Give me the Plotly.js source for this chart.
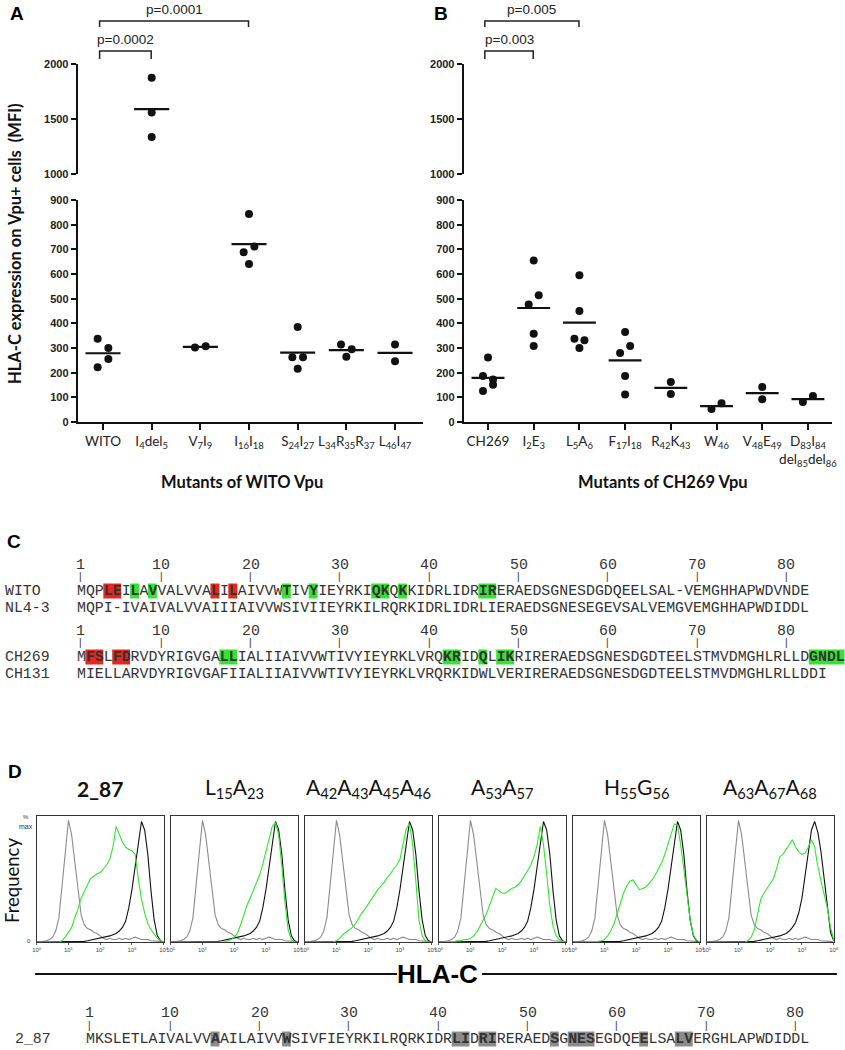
<!DOCTYPE html>
<html>
<head>
<meta charset="utf-8">
<script src="https://cdn.plot.ly/plotly-3.0.1.min.js"></script>
<style>
  html, body { margin: 0; padding: 0; background: #fff; }
  #chart { width: 845px; height: 1050px; }
</style>
</head>
<body>
<div id="chart"></div>
<script>
// ---- A: HLA-C MFI on Vpu+ cells, WITO Vpu mutants
var witoMutants = ['WITO', 'I<sub>4</sub>del<sub>5</sub>', 'V<sub>7</sub>I<sub>9</sub>', 'I<sub>16</sub>I<sub>18</sub>',
  'S<sub>24</sub>I<sub>27</sub>', 'L<sub>34</sub>R<sub>35</sub>R<sub>37</sub>', 'L<sub>46</sub>I<sub>47</sub>'];
var witoMFI = [
  [338, 300, 255, 222],
  [1876, 1558, 1336],
  [302, 307],
  [843, 711, 688, 641],
  [385, 262, 262, 216],
  [314, 295, 265],
  [314, 246]
];
var witoPairs = [[0, 1], [0, 3]];
var witoPvals = ['p=0.0002', 'p=0.0001'];

// ---- B: CH269 Vpu mutants
var ch269Mutants = ['CH269', 'I<sub>2</sub>E<sub>3</sub>', 'L<sub>5</sub>A<sub>6</sub>', 'F<sub>17</sub>I<sub>18</sub>',
  'R<sub>42</sub>K<sub>43</sub>', 'W<sub>46</sub>', 'V<sub>48</sub>E<sub>49</sub>',
  'D<sub>83</sub>I<sub>84</sub><br>del<sub>85</sub>del<sub>86</sub>'];
var ch269MFI = [
  [261, 186, 172, 151, 126],
  [655, 514, 476, 358, 308],
  [595, 450, 338, 331, 300],
  [365, 308, 280, 186, 111],
  [162, 114],
  [53, 76],
  [142, 92],
  [81, 105]
];
var ch269Pairs = [[0, 1], [0, 2]];
var ch269Pvals = ['p=0.003', 'p=0.005'];

// ---- C: Vpu alignments
var witoSeq  = 'MQPLEILAVVALVVALILAIVVWTIVYIEYRKIQKQKKIDRLIDRIRERAEDSGNESDGDQEELSAL-VEMGHHAPWDVNDE';
var nl43Seq  = 'MQPI-IVAIVALVVAIIIAIVVWSIVIIEYRKILRQRKIDRLIDRLIERAEDSGNESEGEVSALVEMGVEMGHHAPWDIDDL';
var ch269Seq = 'MFSLFDRVDYRIGVGALLIALIIAIVVWTIVYIEYRKLVRQKRIDQLIKRIRERAEDSGNESDGDTEELSTMVDMGHLRLLDGNDL';
var ch131Seq = 'MIELLARVDYRIGVGAFIIALIIAIVVWTIVYIEYRKLVRQRKIDWLVERIRERAEDSGNESDGDTEELSTMVDMGHLRLLDDI';
var witoRed = [4, 5, 16, 18];
var witoGreen = [7, 9, 24, 27, 34, 35, 37, 46, 47];
var ch269Red = [2, 3, 5, 6];
var ch269Green = [17, 18, 42, 43, 46, 48, 49, 83, 84, 85, 86];
var seqNumbers = [1, 10, 20, 30, 40, 50, 60, 70, 80];

// ---- D: flow histograms (% of max vs log10 HLA-C)
var dTitles = ['<b>2_87</b>', 'L<sub>15</sub>A<sub>23</sub>', 'A<sub>42</sub>A<sub>43</sub>A<sub>45</sub>A<sub>46</sub>',
  'A<sub>53</sub>A<sub>57</sub>', 'H<sub>55</sub>G<sub>56</sub>', 'A<sub>63</sub>A<sub>67</sub>A<sub>68</sub>'];
var logChannel = [0, 0.1, 0.2, 0.3, 0.4, 0.5, 0.6, 0.7, 0.8, 0.9, 1, 1.1, 1.2, 1.3, 1.4, 1.5, 1.6, 1.7, 1.8, 1.9, 2,
  2.1, 2.2, 2.3, 2.4, 2.5, 2.6, 2.7, 2.8, 2.9, 3, 3.1, 3.2, 3.3, 3.4, 3.5, 3.6, 3.7, 3.8, 3.9, 4];
var isotype = [0, 0, 0.5, 1, 2, 4, 9, 20, 45, 75, 100, 88, 65, 40, 22, 14, 11, 10, 8, 7, 5,
  3, 2, 3, 2, 2, 3, 2, 3, 2, 3, 4, 3, 2, 2, 2, 1, 1, 1, 0.5, 0];
var parental = [0, 0, 0, 0, 0, 0, 0, 0, 0, 0, 0, 0, 0, 0, 0, 0.5, 1, 1.5, 2, 2.5, 3,
  4, 4.5, 5, 6, 7, 9, 12, 17, 28, 43, 62, 82, 99, 92, 72, 42, 18, 5, 1, 0];
var parental6 = [0, 0, 0, 0, 0, 0, 0, 0, 0, 0, 0, 0, 0, 0, 0, 0.5, 1, 1.5, 2, 2.5, 3,
  3.5, 4, 5, 6, 7, 9, 12, 16, 24, 36, 54, 74, 92, 99, 90, 74, 52, 26, 8, 1];
var mut287 = [0, 0, 0, 0, 0, 0, 0, 0, 1, 4, 8, 12, 20, 27, 36, 42, 47, 52, 54, 56, 57,
  60, 63, 68, 78, 95, 88, 82, 78, 76, 75, 72, 52, 35, 24, 15, 10, 6, 3, 1, 0];
var mutL15 = [0, 0, 0, 0, 0, 0, 0, 0, 0, 0, 0, 0, 0, 0, 0, 0, 0, 0, 1, 2, 4,
  7, 14, 22, 30, 36, 42, 48, 55, 64, 74, 86, 95, 98, 88, 62, 32, 10, 2, 0, 0];
var mutA42 = [0, 0, 0, 0, 0, 0, 0, 0, 0, 0, 1, 3, 6, 8, 10, 12, 15, 20, 24, 27, 31,
  35, 40, 43, 46, 49, 53, 56, 60, 63, 68, 80, 93, 97, 80, 50, 18, 5, 1, 0, 0];
var mutA53 = [0, 0, 0, 0, 0, 0.5, 1, 1, 2, 2, 3, 5, 8, 13, 18, 23, 30, 38, 44, 42, 40,
  40, 42, 44, 45, 47, 50, 54, 58, 63, 70, 80, 95, 80, 56, 30, 13, 5, 2, 0.5, 0];
var mutH55 = [0, 0, 0, 0, 0, 0, 0, 0, 0.5, 1, 2, 5, 9, 15, 24, 32, 40, 46, 50, 51, 47,
  43, 44, 45, 48, 51, 55, 60, 65, 72, 80, 89, 97, 96, 80, 60, 38, 18, 6, 1.5, 0];
var mutA63 = [0, 0, 0, 0, 0, 0, 0, 0, 0, 0, 0, 0, 0, 1, 4, 10, 22, 35, 40, 44, 48,
  52, 60, 70, 72, 76, 80, 84, 78, 74, 72, 73, 78, 84, 78, 62, 50, 40, 28, 12, 2];
var dGreens = [mut287, mutL15, mutA42, mutA53, mutH55, mutA63];
var dBlacks = [parental, parental, parental, parental, parental, parental6];

// ---- bottom: 2_87 sequence with alanine-scan positions
var seq287 = 'MKSLETLAIVALVVAAILAIVVWSIVFIEYRKILRQRKIDRLIDRIRERAEDSGNESEGDQEELSALVERGHLAPWDIDDL';
var gray287 = [15, 23, 42, 43, 45, 46, 53, 55, 56, 57, 63, 67, 68];

// -------------------------------------------------------------
var W = 845, H = 1050;
function px(x) { return x / W; }
function py(y) { return 1 - y / H; }

var traces = [];
var annotations = [];
var shapes = [];

function note(text, x, y, font, extra) {
  var a = {xref: 'paper', yref: 'paper', x: px(x), y: py(y), text: text, showarrow: false,
    xanchor: 'center', yanchor: 'middle', borderpad: 0, borderwidth: 0, font: font};
  for (var k in extra) a[k] = extra[k];
  annotations.push(a);
}

// dot plot panels ------------------------------------------------
var lowTop = 200, lowBot = 422, upTop = 64, upBot = 174;
var lowScale = (lowBot - lowTop) / 900, upScale = (upBot - upTop) / 1000;
var patterns = {1: [0], 2: [1, -1], 3: [-1, 1, 0], 4: [-1, 1, 1, -1], 5: [0, -1, 1, 1, -1]};

function spread(vals) {
  var idx = vals.map(function (v, i) { return i; }).sort(function (a, b) { return vals[b] - vals[a]; });
  var offs = vals.map(function () { return 0; });
  var clusters = [], cur = [];
  idx.forEach(function (i, k) {
    var scale = vals[i] >= 1000 ? upScale : lowScale;
    if (k > 0 && (vals[idx[k - 1]] - vals[i]) * scale < 11.5) cur.push(i);
    else { if (cur.length) clusters.push(cur); cur = [i]; }
  });
  clusters.push(cur);
  clusters.forEach(function (c) {
    var p = patterns[c.length] || c.map(function (_, j) { return j % 2 ? 1 : -1; });
    c.forEach(function (i, j) { offs[i] = p[j] * 0.11; });
  });
  return offs;
}

function dotPanel(groups, xa, yLow, yUp) {
  var lo = {x: [], y: []}, up = {x: [], y: []};
  var mLo = {x: [], y: []}, mUp = {x: [], y: []};
  groups.forEach(function (vals, g) {
    var offs = spread(vals);
    vals.forEach(function (v, i) {
      var t = v >= 1000 ? up : lo;
      t.x.push(g + offs[i]); t.y.push(v);
    });
    var mean = vals.reduce(function (s, v) { return s + v; }, 0) / vals.length;
    var m = mean >= 1000 ? mUp : mLo;
    m.x.push(g - 0.36, g + 0.36, null); m.y.push(mean, mean, null);
  });
  [[mLo, yLow], [mUp, yUp]].forEach(function (p) {
    traces.push({x: p[0].x, y: p[0].y, xaxis: xa, yaxis: p[1], mode: 'lines',
      line: {color: '#111', width: 2.2}, hoverinfo: 'skip'});
  });
  [[lo, yLow], [up, yUp]].forEach(function (p) {
    traces.push({x: p[0].x, y: p[0].y, xaxis: xa, yaxis: p[1], mode: 'markers',
      marker: {color: '#111', size: 8}, hoverinfo: 'skip'});
  });
}
dotPanel(witoMFI, 'x', 'y', 'y2');
dotPanel(ch269MFI, 'x2', 'y3', 'y4');

function catAxis(l, r, range, anchor, labels) {
  return {domain: [px(l), px(r)], range: range, anchor: anchor,
    tickmode: 'array', tickvals: labels.map(function (_, i) { return i; }), ticktext: labels,
    tickangle: 0, ticks: 'outside', ticklen: 6, tickwidth: 2, tickcolor: '#111',
    showline: true, linewidth: 2, linecolor: '#111', showgrid: false, zeroline: false,
    tickfont: {family: 'Lato', size: 13.5, color: '#222'}};
}
function valAxis(top, bot, range, dtick, anchor) {
  return {domain: [py(bot), py(top)], range: range, anchor: anchor, dtick: dtick, tick0: 0,
    ticks: 'outside', ticklen: 5, tickwidth: 2, tickcolor: '#111',
    showline: true, linewidth: 2, linecolor: '#111', showgrid: false, zeroline: false,
    tickfont: {family: 'Liberation Sans', size: 11, color: '#222', weight: 'bold'}};
}

var layout = {
  width: W, height: H,
  margin: {l: 0, r: 0, t: 0, b: 0},
  paper_bgcolor: '#fff', plot_bgcolor: 'rgba(0,0,0,0)',
  showlegend: false, hovermode: false,
  xaxis: catAxis(77.7, 423, [-0.52, 6.575], 'y', witoMutants),
  yaxis: valAxis(lowTop, lowBot, [0, 900], 100, 'x'),
  yaxis2: valAxis(upTop, upBot, [1000, 2000], 500, 'x'),
  xaxis2: catAxis(463.7, 832, [-0.532, 7.527], 'y3', ch269Mutants),
  yaxis3: valAxis(lowTop, lowBot, [0, 900], 100, 'x2'),
  yaxis4: valAxis(upTop, upBot, [1000, 2000], 500, 'x2')
};

// significance brackets
function brackets(pairs, labels, xref) {
  var bars = [51, 21], legs = [59, 27];
  pairs.forEach(function (p, i) {
    var a = p[0] - 0.07, b = p[1] - 0.01;
    shapes.push({type: 'path', xref: xref, yref: 'paper',
      path: 'M ' + a + ',' + py(legs[i]) + ' L ' + a + ',' + py(bars[i]) + ' L ' + b + ',' + py(bars[i]) + ' L ' + b + ',' + py(legs[i]),
      line: {color: '#222', width: 1.5}});
    annotations.push({xref: xref, yref: 'paper', x: (a + b) / 2, y: py(bars[i] - 11), text: labels[i],
      showarrow: false, xanchor: 'center', yanchor: 'middle', borderpad: 0, borderwidth: 0,
      font: {family: 'Liberation Sans', size: 13.5, color: '#222'}});
  });
}
brackets(witoPairs, witoPvals, 'x');
brackets(ch269Pairs, ch269Pvals, 'x2');

var letterFont = {family: 'Liberation Sans', size: 19, color: '#000', weight: 'bold'};
note('A', 16.5, 13, letterFont);
note('B', 441, 13, letterFont);
note('C', 14, 541, letterFont);
note('D', 15, 771, letterFont);

var titleFont = {family: 'Lato', size: 16.5, color: '#111'};
note('<b>HLA-C expression on Vpu+ cells  (MFI)</b>', 15, 244, titleFont, {textangle: -90});
note('<b>Mutants of WITO Vpu</b>', 242, 482, titleFont);
note('<b>Mutants of CH269 Vpu</b>', 663, 482, titleFont);

// sequence rows ---------------------------------------------------
var cw = 8.93;
var monoFont = {family: 'Liberation Mono', size: 14.88, color: '#333'};

function runs(marks) {
  var s = marks.slice().sort(function (a, b) { return a - b; }), out = [];
  s.forEach(function (m) {
    var last = out[out.length - 1];
    if (last && m === last[1] + 1) last[1] = m; else out.push([m, m]);
  });
  return out;
}
function boldMarkup(seq, marks) {
  var html = '', inB = false;
  for (var i = 0; i < seq.length; i++) {
    var on = marks.indexOf(i + 1) >= 0;
    if (on && !inB) { html += '<b>'; inB = true; }
    if (!on && inB) { html += '</b>'; inB = false; }
    html += seq[i];
  }
  return html + (inB ? '</b>' : '');
}
function seqRow(name, nameX, seq, x0, y, marks) {
  marks.forEach(function (mk) {
    runs(mk.pos).forEach(function (r) {
      shapes.push({type: 'rect', xref: 'paper', yref: 'paper', layer: 'below',
        x0: px(x0 + (r[0] - 1) * cw), x1: px(x0 + r[1] * cw), y0: py(y + 7.5), y1: py(y - 7.5),
        fillcolor: mk.color, line: {width: 0}});
    });
  });
  var all = [];
  marks.forEach(function (mk) { all = all.concat(mk.pos); });
  note(name, nameX, y, monoFont, {xanchor: 'left'});
  note(boldMarkup(seq, all), x0, y, monoFont, {xanchor: 'left'});
}
function numberRow(x0, yNum, yTick) {
  seqNumbers.forEach(function (n) {
    var cx = x0 + (n - 0.5) * cw;
    note(String(n), cx, yNum, monoFont);
    note('|', cx, yTick, {family: 'Liberation Mono', size: 11, color: '#444'});
  });
}
var red = '#e8261e', green = '#35e335', gray = '#8c8c8c';
var cX = 76.5;
numberRow(cX, 565, 577);
seqRow('WITO', 5, witoSeq, cX, 591, [{pos: witoRed, color: red}, {pos: witoGreen, color: green}]);
seqRow('NL4-3', 5, nl43Seq, cX, 608, []);
numberRow(cX, 631, 643);
seqRow('CH269', 5, ch269Seq, cX, 657, [{pos: ch269Red, color: red}, {pos: ch269Green, color: green}]);
seqRow('CH131', 5, ch131Seq, cX, 674, []);

var bX = 85.5;
numberRow(bX, 1013, 1026);
seqRow('2_87', 15, seq287, bX, 1039, [{pos: gray287, color: gray}]);

// flow histograms ------------------------------------------------------
var boxTop = 816, boxBot = 942, boxW = 127;
var tickText = ['10<sup>0</sup>', '10<sup>1</sup>', '10<sup>2</sup>', '10<sup>3</sup>', '10<sup>4</sup>'];
dTitles.forEach(function (t, k) {
  var left = 36.7 + k * 134;
  var xa = 'x' + (k + 3), ya = 'y' + (k + 5);
  layout['xaxis' + (k + 3)] = {domain: [px(left), px(left + boxW)], range: [0, 4], anchor: ya,
    tickmode: 'array', tickvals: [0, 1, 2, 3, 4], ticktext: tickText, tickangle: 0,
    ticks: 'outside', ticklen: 2, tickwidth: 1, tickcolor: '#555',
    showline: true, mirror: true, linewidth: 1, linecolor: '#333', showgrid: false, zeroline: false,
    tickfont: {family: 'Liberation Sans', size: 6, color: '#444'}};
  layout['yaxis' + (k + 5)] = {domain: [py(boxBot), py(boxTop)], range: [0, 103.5], anchor: xa,
    showline: true, mirror: true, linewidth: 1, linecolor: '#333', showgrid: false, zeroline: false,
    showticklabels: false, ticks: ''};
  traces.push({x: logChannel, y: isotype, xaxis: xa, yaxis: ya, mode: 'lines',
    line: {color: '#8a8a8a', width: 1.1}, hoverinfo: 'skip'});
  traces.push({x: logChannel, y: dBlacks[k], xaxis: xa, yaxis: ya, mode: 'lines',
    line: {color: '#111', width: 1.1}, hoverinfo: 'skip'});
  traces.push({x: logChannel, y: dGreens[k], xaxis: xa, yaxis: ya, mode: 'lines',
    line: {color: '#2ee82e', width: 1.1}, hoverinfo: 'skip'});
  note(t, left + boxW / 2, 788, {family: 'Lato', size: 21, color: '#111'});
});
var tiny = {family: 'Liberation Sans', size: 6, color: '#333'};
note('%', 26, 817, tiny);
note('max', 26, 826.5, {family: 'Liberation Sans', size: 7, color: '#333'});
note('0', 29, 941, tiny);
note('Frequency', 12, 881, {family: 'Lato', size: 18.5, color: '#111'}, {textangle: -90});

// HLA-C axis label
shapes.push({type: 'line', xref: 'paper', yref: 'paper', x0: px(35), x1: px(397), y0: py(974), y1: py(974),
  line: {color: '#111', width: 2}});
shapes.push({type: 'line', xref: 'paper', yref: 'paper', x0: px(482), x1: px(837), y0: py(974), y1: py(974),
  line: {color: '#111', width: 2}});
note('<b>HLA-C</b>', 437, 974, {family: 'Liberation Sans Narrow, Liberation Sans', size: 26, color: '#000'});

layout.annotations = annotations;
layout.shapes = shapes;

Plotly.newPlot('chart', traces, layout, {displayModeBar: false, responsive: false});
</script>
</body>
</html>
